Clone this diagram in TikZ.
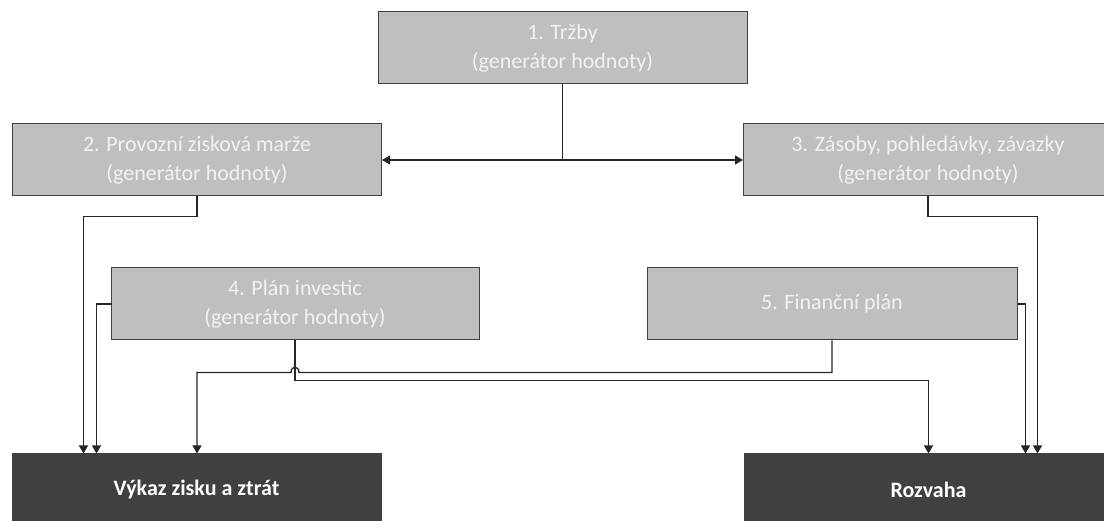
\documentclass[tikz,border=0pt]{standalone}
\usepackage{fontspec}
\setmainfont{Carlito}
\usetikzlibrary{arrows.meta,calc}
\definecolor{boxgray}{HTML}{BFBFBF}
\definecolor{boxdark}{HTML}{404040}
\definecolor{linegray}{HTML}{262626}
\tikzset{
	genbox/.style={draw=boxdark, line width=1pt, fill=boxgray, text=white!95!black, minimum width=369pt, minimum height=72pt, inner sep=0pt, align=center, font=\fontsize{22}{29}\selectfont},
	resbox/.style={draw=boxdark, line width=1pt, fill=boxdark, text=white, minimum width=369pt, minimum height=72pt, inner sep=0pt, align=center, font=\fontsize{22}{29}\selectfont\bfseries},
	conn/.style={draw=linegray, line width=1.3pt},
	tip/.style={-{Triangle[width=9pt,length=8pt]}}
}

\begin{document}
\begin{tikzpicture}[x=1pt, y=-1pt]
		%%%%% START %%%%%
		\useasboundingbox (0, 0) rectangle (1104, 521);
		\clip (0, 0) rectangle (1104, 521);
		
		\node[genbox] (trzby) at (562.5, 48) {1. Tržby\\(generátor hodnoty)};
		\node[genbox] (marze) at (197, 160) {2. Provozní zisková marže\\(generátor hodnoty)};
		\node[genbox] (zasoby) at (928, 160) {3. Zásoby, pohledávky, závazky\\(generátor hodnoty)};
		\node[genbox, minimum width=368pt] (invest) at (295, 304) {4. Plán investic\\(generátor hodnoty)};
		\node[genbox, minimum width=370pt] (fin) at (832, 304) {5. Finanční plán};
		
		\node[resbox] (vykaz) at (196.5, 490) {Výkaz zisku a ztrát};
		\node[resbox] (rozvaha) at (928.5, 490) {Rozvaha};
		
		% trzby -> marze, zasoby
		\draw[conn] (trzby.south) -- (trzby.south |- marze.east);
		\draw[conn, {Triangle[width=9pt,length=8pt]}-{Triangle[width=9pt,length=8pt]}] (marze.east) -- (zasoby.west);
		
		% into the income statement
		\draw[conn, tip] (marze.south) -- ++(0, 20) -| ([xshift=72pt]vykaz.north west);
		\draw[conn, tip] (invest.west) -| ([xshift=85pt]vykaz.north west);
		\draw[conn, tip] (fin.south) -- ++(0, 32) coordinate (f1)
			-- ([xshift=4pt]f1 -| invest.south) .. controls +(0, -7) and +(0, -7) .. ([xshift=-4pt]f1 -| invest.south)
			-| (vykaz.north -| marze.south);
		
		% into the balance sheet
		\draw[conn, tip] (invest.south) -- ++(0, 40) -| (rozvaha.north);
		\draw[conn, tip] (fin.east) -| ([xshift=282pt]rozvaha.north west);
		\draw[conn, tip] (zasoby.south) -- ++(0, 20) -| ([xshift=294pt]rozvaha.north west);
		
		%%%%% END %%%%%
	\end{tikzpicture}
\end{document}
